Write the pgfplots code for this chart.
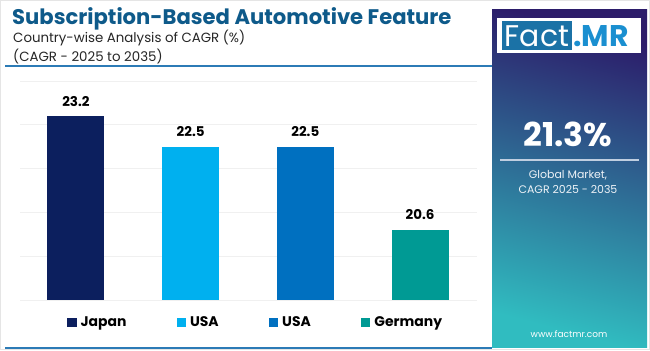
\documentclass[border=0pt]{standalone}
\usepackage{fontspec}
\setmainfont{Poppins}
\usepackage{pgfplots}
\pgfplotsset{compat=1.18}
\definecolor{titleblue}{HTML}{0E5A8A}
\definecolor{cJapan}{HTML}{0C1F5E}
\definecolor{cUSA}{HTML}{00B0EF}
\definecolor{cUSAtwo}{HTML}{0070C0}
\definecolor{cGer}{HTML}{009A94}
\definecolor{pTop}{HTML}{2C1C6A}
\definecolor{pMid}{HTML}{2B5C98}
\definecolor{pBot}{HTML}{30BCC0}
\definecolor{logoblue}{HTML}{1B72A6}
\definecolor{mrblue}{HTML}{1A8FD0}
\definecolor{lineblue}{HTML}{2C7BB6}
\begin{document}
\begin{tikzpicture}[x=1bp,y=1bp]
\useasboundingbox (0,0) rectangle (650,350);
\fill[white] (0,0) rectangle (650,350);
\draw[gray!20] (0.5,0.5) rectangle (649.5,349.5);
% title block
\node[anchor=base west, inner sep=0pt, text=titleblue, font=\bfseries\fontsize{21.2}{23}\selectfont] at (12,326) {Subscription-Based Automotive Feature};
\node[anchor=base west, inner sep=0pt, text=black!85, font=\fontsize{13.4}{15}\selectfont] at (13,308) {Country-wise Analysis of CAGR (\%)};
\node[anchor=base west, inner sep=0pt, text=black!85, font=\fontsize{13.4}{15}\selectfont] at (13,289) {(CAGR - 2025 to 2035)};
\draw[lineblue, line width=1.5bp] (5,284) -- (492,284);
\draw[lineblue, line width=1.5bp] (5,2) -- (492,2);
% side panel
\begin{scope}
\clip (492,3) rectangle (647,340);
\shade[top color=pTop, middle color=pMid, bottom color=pBot, shading angle=-15] (492,3) rectangle (647,340);
\end{scope}
\fill[white] (497,297) rectangle (641,332);
\fill[logoblue] (502,300) rectangle (572,329);
\node[anchor=base, inner sep=0pt, text=white, font=\fontsize{30}{32}\selectfont] at (537,304) {Fact};
\node[anchor=base west, inner sep=0pt, text=mrblue, font=\bfseries\fontsize{30}{32}\selectfont] at (573,304) {.MR};
\node[anchor=base, inner sep=0pt, text=white, font=\bfseries\fontsize{33}{36}\selectfont] at (568,204) {21.3\%};
\draw[white!70!pMid, line width=1.5bp] (500,190) -- (639,190);
\node[anchor=base, inner sep=0pt, text=white!92!pMid, font=\fontsize{11}{13}\selectfont] at (568,172) {Global Market,};
\node[anchor=base, inner sep=0pt, text=white!92!pMid, font=\fontsize{11}{13}\selectfont] at (568,157) {CAGR 2025 - 2035};
\node[anchor=center, inner sep=0pt, text=white, font=\fontsize{9}{11}\selectfont] at (569,16) {www.factmr.com};
% chart
\begin{axis}[at={(20bp,50bp)}, anchor=south west, scale only axis,
  width=457bp, height=219bp,
  xmin=-0.488, xmax=3.497, ymin=19, ymax=24,
  axis line style={draw=none},
  ytick={19,20,21,22,23,24}, yticklabels={},
  ymajorgrids, grid style={draw=gray!12, line width=0.8bp},
  xtick=\empty, major tick length=0pt,
  ybar, bar width=57bp, bar shift=0pt,
  point meta=explicit symbolic,
  nodes near coords,
  every node near coord/.append style={anchor=base, yshift=10bp, inner sep=0pt, text=black, font=\bfseries\fontsize{13.5}{15}\selectfont},
  legend columns=4,
  legend style={draw=none, fill=none, at={(0.1028,-0.1005)}, anchor=west, inner sep=0pt,
    nodes={inner sep=0pt, font=\bfseries\fontsize{14}{16}\selectfont},
    /tikz/every odd column/.append style={column sep=4bp},
    /tikz/every even column/.append style={column sep=50bp}},
  legend image code/.code={\fill[#1] (0bp,-4.5bp) rectangle (9.5bp,4.5bp);},
]
\addplot[draw=none, fill=cJapan] coordinates {(0,23.2) [23.2]};
\addlegendentry{Japan}
\addplot[draw=none, fill=cUSA] coordinates {(1,22.5) [22.5]};
\addlegendentry{USA}
\addplot[draw=none, fill=cUSAtwo] coordinates {(2,22.5) [22.5]};
\addlegendentry{USA}
\addplot[draw=none, fill=cGer] coordinates {(3,20.6) [20.6]};
\addlegendentry{Germany}
\end{axis}
\end{tikzpicture}
\end{document}
